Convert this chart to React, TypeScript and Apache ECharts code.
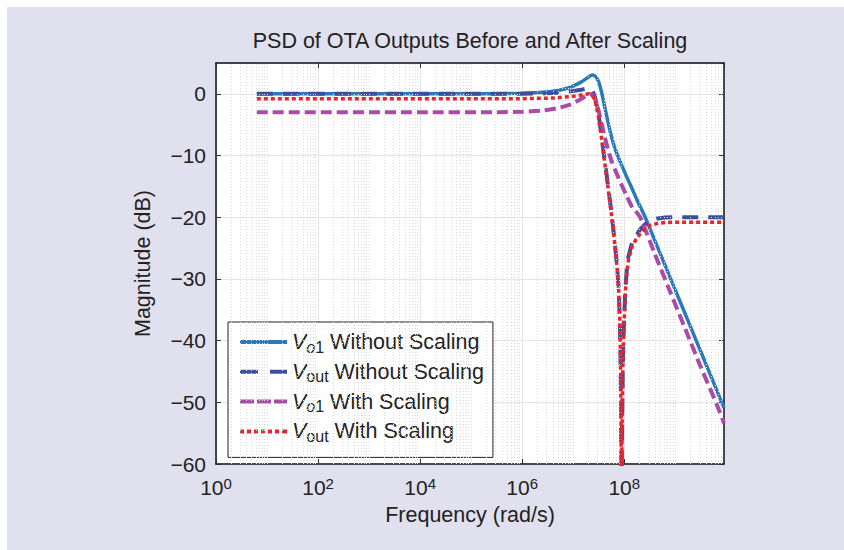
import React, { useEffect, useRef } from "react";
import * as echarts from "echarts";

// log10(frequency in rad/s) and magnitude in dB
const vo1NoScaleX = [0.8, 4, 5.5, 6.0, 6.4, 6.7, 6.95, 7.15, 7.28, 7.37, 7.44, 7.5, 7.56, 7.64, 7.72, 7.8, 7.87, 7.95, 8.05, 8.15, 8.25, 8.41, 8.66, 8.91, 9.16, 9.41, 9.66, 9.954];
const vo1NoScaleY = [0, 0, 0.03, 0.1, 0.25, 0.55, 1.1, 1.9, 2.6, 3.05, 2.8, 1.9, 0.1, -3, -6, -8.4, -10, -11.6, -13.5, -15.3, -17.2, -20, -25, -30, -35, -40, -45, -50.9];

const voutNoScaleX = [0.8, 4, 6.0, 6.6, 6.95, 7.15, 7.25, 7.31, 7.37, 7.43, 7.49, 7.56, 7.6, 7.66, 7.73, 7.78, 7.82, 7.86, 7.89, 7.91, 7.925, 7.935, 7.945, 7.955, 7.97, 7.99, 8.02, 8.05, 8.08, 8.15, 8.23, 8.31, 8.4, 8.51, 8.65, 8.8, 9.0, 9.954];
const voutNoScaleY = [0, 0, 0.03, 0.15, 0.4, 0.65, 0.82, 0.9, 0.7, -0.6, -3, -7, -9.8, -13.5, -18, -21.5, -24.7, -28, -31.5, -36, -42, -50, -72, -55, -44, -38, -31.7, -28.5, -26.4, -24.2, -23, -22, -21.2, -20.5, -20.2, -20.05, -20, -20];

const vo1ScaleX = [0.8, 4, 5.5, 6.0, 6.4, 6.7, 6.95, 7.12, 7.25, 7.33, 7.4, 7.46, 7.52, 7.6, 7.68, 7.76, 7.85, 7.95, 8.05, 8.15, 8.31, 8.6, 8.9, 9.2, 9.5, 9.82, 9.954];
const vo1ScaleY = [-3, -3, -2.97, -2.9, -2.7, -2.3, -1.7, -1.0, -0.35, -0.05, -0.4, -1.6, -3.5, -6.4, -9, -11.1, -12.9, -14.8, -16.6, -18.3, -20, -26, -32.1, -38.2, -44.3, -50.5, -53.4];

const voutScaleX = [0.8, 4, 6.0, 6.6, 6.95, 7.15, 7.25, 7.31, 7.37, 7.43, 7.49, 7.56, 7.6, 7.66, 7.73, 7.78, 7.82, 7.86, 7.89, 7.91, 7.925, 7.935, 7.945, 7.955, 7.97, 7.99, 8.02, 8.05, 8.08, 8.15, 8.23, 8.31, 8.4, 8.51, 8.65, 8.8, 9.0, 9.954];
const voutScaleY = [-0.8, -0.8, -0.78, -0.68, -0.45, -0.2, -0.05, 0, -0.15, -1.2, -3.5, -7.5, -10.2, -13.8, -18.3, -21.8, -25, -28.3, -31.8, -36.3, -42.3, -50.5, -72, -55.5, -44.5, -38.5, -32.2, -29, -27, -24.8, -23.6, -22.7, -21.9, -21.3, -21, -20.85, -20.8, -20.8];

const seriesNames = ["Vo1 Without Scaling", "Vout Without Scaling", "Vo1 With Scaling", "Vout With Scaling"];
const seriesColors = ["#2a7ab9", "#3c4f9e", "#ab4ba8", "#e8252b"];
const xTickExponents = [0, 2, 4, 6, 8];
const yTicks = [-60, -50, -40, -30, -20, -10, 0];
const minorDecades = [0, 1, 2, 3, 4, 5, 6, 7, 8, 9];
const minorMultipliers = [2, 3, 4, 5, 6, 7, 8, 9];

const FONT = "'Liberation Sans', Arial, Helvetica, sans-serif";

// legend swatches (47 x 4 box): solid, long dash, short dash, dotted
const legendIcons = [
  "path://M0,0 H47 V4 H0 Z",
  "path://M0,0 H18 V4 H0 Z M30,0 H47 V4 H30 Z",
  "path://M0,0 H14 V4 H0 Z M17,0 H31 V4 H17 Z M34,0 H47 V4 H34 Z",
  "path://M0,0 H4 V4 H0 Z M7,0 H11 V4 H7 Z M14,0 H18 V4 H14 Z M21,0 H25 V4 H21 Z M28,0 H32 V4 H28 Z M35,0 H39 V4 H35 Z M42,0 H47 V4 H42 Z",
];

function zip(xs: number[], ys: number[]) {
  return xs.map((x, i) => [x, ys[i]]);
}

export default function App() {
  const ref = useRef<HTMLDivElement>(null);
  useEffect(() => {
    document.documentElement.style.overflow = "hidden";
    document.body.style.margin = "0";
    document.body.style.overflow = "hidden";
    const chart = echarts.init(ref.current!, undefined, { renderer: "svg" });
    const xMax = 9.954;
    const minorLines: any[] = [];
    minorDecades.forEach((d) => {
      minorMultipliers.forEach((m) => {
        const v = d + Math.log10(m);
        if (v < xMax) minorLines.push({ xAxis: v });
      });
      if (d % 2 === 1) minorLines.push({ xAxis: d });
    });

    const lineSeries = (idx: number, data: number[][], width: number, type: any, z: number, smooth: number | boolean) => ({
      name: seriesNames[idx],
      type: "line",
      data,
      symbol: "none",
      showSymbol: false,
      clip: true,
      smooth,
      z,
      lineStyle: { color: seriesColors[idx], width, type, cap: "butt" },
      itemStyle: { color: seriesColors[idx] },
    });

    chart.setOption({
      animation: false,
      backgroundColor: "#ffffff",
      graphic: [
        {
          type: "rect",
          z: -10,
          silent: true,
          shape: { x: 7, y: 7, width: 900, height: 600 },
          style: { fill: "#e1e0ef" },
        },
      ],
      title: {
        text: "PSD of OTA Outputs Before and After Scaling",
        left: 465,
        textAlign: "center",
        top: 25,
        textStyle: { fontFamily: FONT, fontSize: 21.5, fontWeight: "normal", color: "#222" },
      },
      grid: { left: 216, top: 63, width: 508, height: 401, show: true, backgroundColor: "#ffffff", borderWidth: 0 },
      legend: {
        data: seriesNames.map((name, i) => ({
          name,
          icon: legendIcons[i],
          itemStyle: { color: seriesColors[i], borderWidth: 0, borderColor: "transparent", decal: "none" },
        })),
        orient: "vertical",
        left: 228,
        top: 322,
        itemWidth: 47,
        itemHeight: 4,
        itemGap: 5.8,
        padding: [9, 9, 13, 12],
        backgroundColor: "#ffffff",
        borderColor: "#222",
        borderWidth: 1,
        borderRadius: 0,
        selectedMode: false,
        itemStyle: { borderWidth: 0, borderColor: "transparent" },
        lineStyle: { width: 0 },
        formatter: (name: string) => {
          const parts = name.split(" ");
          const v = parts[0];
          const rest = parts.slice(1).join(" ");
          const sub = v === "Vo1" ? "{si|o}{sr|1}" : "{sr|out}";
          return `{v|V}${sub} {t|${rest}}`;
        },
        textStyle: {
          fontFamily: FONT,
          color: "#222",
          fontSize: 21.5,
          rich: {
            v: { fontFamily: FONT, fontSize: 21.5, fontStyle: "italic", lineHeight: 26, color: "#222" },
            si: { fontFamily: FONT, fontSize: 16, fontStyle: "italic", lineHeight: 12, verticalAlign: "bottom", color: "#222" },
            sr: { fontFamily: FONT, fontSize: 16, lineHeight: 12, verticalAlign: "bottom", color: "#222" },
            t: { fontFamily: FONT, fontSize: 21.5, lineHeight: 26, color: "#222" },
          },
        },
      },
      xAxis: [
        {
          type: "value",
          min: 0,
          max: xMax,
          interval: 2,
          name: "Frequency (rad/s)",
          nameLocation: "middle",
          nameGap: 40,
          nameTextStyle: { fontFamily: FONT, fontSize: 21.5, color: "#222" },
          axisLine: { show: true, onZero: false, lineStyle: { color: "#111", width: 1.5 } },
          axisTick: { show: true, inside: true, length: 5, lineStyle: { color: "#333" } },
          splitLine: { show: true, lineStyle: { color: "#e4e4e4", width: 1 } },
          axisLabel: {
            margin: 12,
            showMaxLabel: false,
            formatter: (v: number) => (xTickExponents.includes(v) ? `{b|10}{s|${v}}` : ""),
            rich: {
              b: { fontFamily: FONT, fontSize: 21, lineHeight: 22, color: "#222" },
              s: { fontFamily: FONT, fontSize: 15, lineHeight: 10, verticalAlign: "top", color: "#222" },
            },
          },
        },
        {
          type: "value",
          position: "top",
          min: 0,
          max: xMax,
          interval: 2,
          axisLine: { show: true, onZero: false, lineStyle: { color: "#111", width: 1.5 } },
          axisTick: { show: true, inside: true, length: 5, lineStyle: { color: "#333" } },
          axisLabel: { show: false },
          splitLine: { show: false },
        },
      ],
      yAxis: [
        {
          type: "value",
          min: -60,
          max: 5,
          interval: 10,
          name: "Magnitude (dB)",
          nameLocation: "middle",
          nameGap: 62,
          nameTextStyle: { fontFamily: FONT, fontSize: 21.5, color: "#222" },
          axisLine: { show: true, onZero: false, lineStyle: { color: "#111", width: 1.5 } },
          axisTick: { show: true, inside: true, length: 5, lineStyle: { color: "#333" } },
          splitLine: { show: true, lineStyle: { color: "#e4e4e4", width: 1 } },
          axisLabel: {
            margin: 10,
            showMaxLabel: false,
            fontFamily: FONT,
            fontSize: 21,
            color: "#222",
            formatter: (v: number) => (yTicks.includes(v) ? (v < 0 ? "\u2212" + -v : String(v)) : ""),
          },
        },
        {
          type: "value",
          position: "right",
          min: -60,
          max: 5,
          interval: 10,
          axisLine: { show: true, onZero: false, lineStyle: { color: "#111", width: 1.5 } },
          axisTick: { show: true, inside: true, length: 5, lineStyle: { color: "#333" } },
          axisLabel: { show: false },
          splitLine: { show: false },
        },
      ],
      series: [
        {
          name: "minor-grid",
          type: "line",
          data: [],
          z: 1,
          silent: true,
          markLine: {
            silent: true,
            symbol: ["none", "none"],
            label: { show: false },
            lineStyle: { color: "#dadada", width: 1, type: [1, 2] },
            data: minorLines,
          },
        },
        lineSeries(0, zip(vo1NoScaleX, vo1NoScaleY), 3.5, "solid", 3, 0.25),
        lineSeries(1, zip(voutNoScaleX, voutNoScaleY), 4, [16, 10], 4, false),
        lineSeries(2, zip(vo1ScaleX, vo1ScaleY), 4, [11, 5], 5, 0.25),
        lineSeries(3, zip(voutScaleX, voutScaleY), 3.5, [4, 3], 6, false),
      ],
    });
    return () => chart.dispose();
  }, []);
  return <div ref={ref} style={{ width: 844, height: 550 }} />;
}
